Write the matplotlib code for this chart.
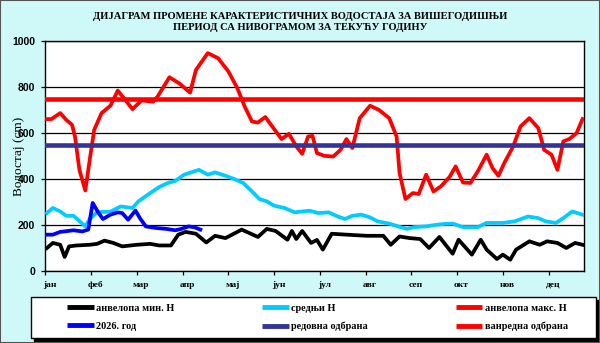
import matplotlib
matplotlib.use("Agg")
import matplotlib.pyplot as plt
from matplotlib.lines import Line2D
from matplotlib.patches import Rectangle

# day of year -> water level (cm)
max_days = [1, 4, 10, 14, 18, 20, 23, 27, 30, 33, 38, 44, 49, 54, 59, 65, 73, 76, 84, 91,
            98, 102, 110, 117, 124, 130, 135, 140, 144, 149, 154, 160, 165, 170, 174, 178, 181, 184, 189, 195,
            200, 204, 208, 213, 220, 226, 233, 238, 240, 244, 249, 253, 258, 263, 268, 274, 278, 283, 288, 293,
            299, 303, 307, 311, 317, 322, 328, 334, 338, 343, 347, 351, 355, 360, 364]
max_vals = [661, 661, 687, 658, 636, 585, 440, 350, 484, 614, 687, 719, 785, 745, 704, 742, 737, 759, 843, 815,
            776, 875, 948, 926, 868, 796, 716, 650, 646, 670, 626, 574, 597, 542, 510, 585, 588, 513, 501, 498,
            527, 574, 535, 665, 719, 701, 665, 585, 426, 313, 339, 335, 419, 346, 368, 410, 455, 385, 383, 433,
            506, 448, 414, 470, 542, 629, 665, 622, 527, 506, 440, 564, 574, 600, 661]

mean_days = [1, 5, 10, 14, 19, 22, 27, 30, 35, 44, 51, 59, 63, 71, 77, 83, 88, 94, 104, 110,
             115, 122, 128, 134, 140, 145, 150, 155, 162, 169, 174, 179, 185, 192, 197, 203, 208, 214, 220, 225,
             233, 239, 245, 250, 258, 265, 271, 276, 283, 293, 299, 310, 318, 327, 334, 339, 346, 351, 357, 364]
mean_vals = [252, 274, 259, 240, 240, 223, 194, 226, 256, 258, 281, 274, 303, 339, 365, 383, 392, 419, 440, 419,
             429, 414, 400, 383, 346, 313, 303, 284, 274, 255, 259, 262, 252, 255, 240, 226, 240, 245, 233, 216,
             206, 194, 183, 191, 194, 201, 205, 206, 191, 191, 209, 209, 216, 237, 230, 216, 209, 230, 259, 245]

min_days = [1, 5, 10, 13, 16, 21, 30, 35, 40, 46, 52, 62, 71, 77, 85, 90, 95, 102, 109, 115,
            122, 133, 144, 150, 156, 164, 167, 170, 174, 180, 184, 188, 194, 204, 218, 229, 234, 240, 247, 254,
            260, 267, 276, 280, 289, 295, 299, 306, 310, 315, 319, 328, 335, 340, 347, 353, 359, 364]
min_vals = [100, 122, 114, 61, 107, 111, 114, 118, 132, 122, 107, 114, 118, 111, 111, 158, 170, 162, 124, 153,
            143, 180, 148, 183, 174, 136, 174, 139, 174, 122, 135, 93, 162, 158, 153, 153, 114, 150, 143, 139,
            100, 148, 75, 136, 71, 136, 93, 52, 71, 49, 93, 129, 114, 129, 122, 100, 122, 114]

cur_days = [1, 5, 10, 19, 25, 29, 32, 36, 39, 44, 49, 52, 56, 61, 64, 68, 75, 82, 88, 92, 97, 101, 105]
cur_vals = [158, 158, 170, 177, 172, 180, 296, 252, 226, 245, 255, 252, 223, 263, 230, 194, 187, 183, 177,
            183, 194, 190, 180]

regular_defence = 550
extra_defence = 750

months = ['јан', 'феб', 'мар', 'апр', 'мај', 'јун', 'јул', 'авг', 'сеп', 'окт', 'нов', 'дец']
month_ticks = [31 * i for i in range(12)]

title = 'ДИЈАГРАМ ПРОМЕНЕ КАРАКТЕРИСТИЧНИХ ВОДОСТАЈА ЗА ВИШЕГОДИШЊИ\nПЕРИОД СА НИВОГРАМОМ ЗА ТЕКУЋУ ГОДИНУ'

bg = '#cff9f9'
fig = plt.figure(figsize=(6, 3.43), dpi=100)
fig.patch.set_facecolor(bg)
ax = fig.add_axes([0.0758, 0.210, 0.8975, 0.670])
ax.set_facecolor('white')

lw = 2.7
ax.plot(min_days, min_vals, color='black', lw=lw, solid_joinstyle='round', zorder=3)
ax.plot(mean_days, mean_vals, color='#00ccff', lw=lw, solid_joinstyle='round', zorder=3)
ax.plot(max_days, max_vals, color='red', lw=lw, solid_joinstyle='round', zorder=3)
ax.plot(cur_days, cur_vals, color='blue', lw=lw, solid_joinstyle='round', zorder=4)
ax.axhline(regular_defence, color='#333399', lw=3.3, zorder=5)
ax.axhline(extra_defence, color='red', lw=3.3, zorder=5)

ax.set_xlim(0, 365)
ax.set_ylim(0, 1000)
ax.set_yticks(range(0, 1001, 200))
ax.set_yticklabels([str(v) for v in range(0, 1001, 200)], fontsize=7.5,
                   fontweight='bold', family='Liberation Sans')
ax.grid(axis='y', color='black', lw=0.9)
ax.set_axisbelow(True)

ax.set_xticks(month_ticks)
ax.set_xticklabels([])
ax.set_xticks([d + 3 for d in month_ticks], minor=True)
ax.set_xticklabels(months, minor=True, fontsize=6.8, fontweight='bold', family='Liberation Serif')
ax.tick_params(axis='x', which='minor', length=0, pad=7)
ax.tick_params(axis='both', which='major', length=3, width=0.9, direction='out', color='black')
ax.tick_params(axis='y', pad=4.5)
for s in ax.spines.values():
    s.set_linewidth(1.0)
    s.set_color('black')

ax.set_ylabel('Водостај (cm)', family='Liberation Serif', fontsize=9.5, labelpad=-9)

fig.text(0.5, 0.937, title, ha='center', va='center', fontsize=7.6, fontweight='bold',
         family='Liberation Serif', linespacing=1.3)

# legend box with black drop shadow
lx0, lx1, ly0, ly1 = 31 / 600, 596 / 600, 1 - 338 / 343, 1 - 297 / 343
fig.patches.append(Rectangle((lx0 + 3 / 600, ly0 - 3 / 343), lx1 - lx0, ly1 - ly0,
                             transform=fig.transFigure, facecolor='black', edgecolor='black', zorder=1))
fig.patches.append(Rectangle((lx0, ly0), lx1 - lx0, ly1 - ly0, transform=fig.transFigure,
                             facecolor='white', edgecolor='black', lw=1.0, zorder=2))

handles = [
    Line2D([], [], color='black', lw=3.5, solid_capstyle='butt'),
    Line2D([], [], color='blue', lw=3.5, solid_capstyle='butt'),
    Line2D([], [], color='#00ccff', lw=3.5, solid_capstyle='butt'),
    Line2D([], [], color='#333399', lw=3.5, solid_capstyle='butt'),
    Line2D([], [], color='red', lw=3.5, solid_capstyle='butt'),
    Line2D([], [], color='red', lw=3.5, solid_capstyle='butt'),
]
labels = ['анвелопа мин. Н', '2026. год', 'средњи Н', 'редовна одбрана',
          'анвелопа макс. Н', 'ванредна одбрана']
leg = fig.legend(handles, labels, ncol=3, mode='expand', frameon=False,
                 loc='center', bbox_to_anchor=(67 / 600, ly0, (568 - 67) / 600, ly1 - ly0),
                 borderpad=0, borderaxespad=0, handlelength=2.6, handletextpad=0.25,
                 labelspacing=0.85, prop={'family': 'Liberation Serif', 'size': 7.4, 'weight': 'bold'})
leg.set_zorder(3)

fig.patches.append(Rectangle((0, 0), 1, 1, transform=fig.transFigure, fill=False,
                             edgecolor='#555555', lw=1.5))

fig.savefig('out.png', dpi=100, facecolor=fig.get_facecolor())
